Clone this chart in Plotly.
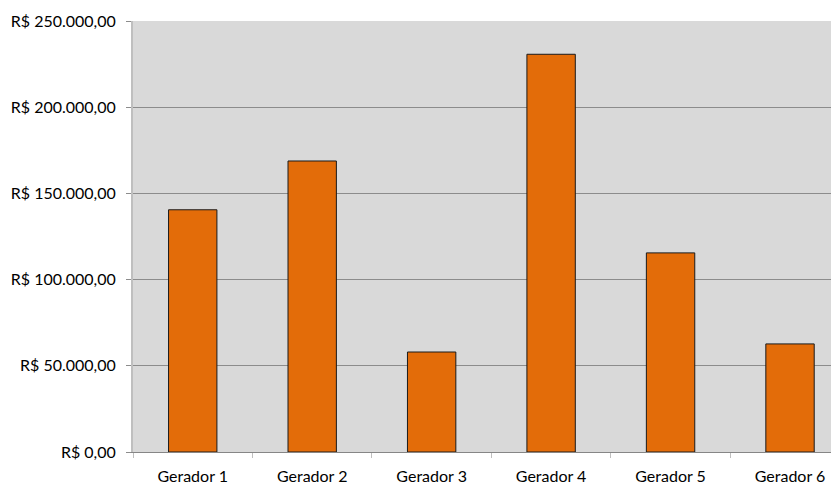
import plotly.graph_objects as go

categories = ["Gerador 1", "Gerador 2", "Gerador 3", "Gerador 4", "Gerador 5", "Gerador 6"]
values = [140500, 168800, 58000, 230700, 115500, 62700]
tick_values = [0, 50000, 100000, 150000, 200000, 250000]
tick_labels = ["R$ 0,00", "R$ 50.000,00", "R$ 100.000,00", "R$ 150.000,00", "R$ 200.000,00", "R$ 250.000,00"]

fig = go.Figure(go.Bar(
    x=list(range(len(categories))), y=values,
    marker=dict(color="#E36C09", line=dict(color="#1a1a1a", width=1)),
    width=0.405,
))

# page body has an 8px default margin, so the figure is sized/offset to compensate
fig.update_layout(
    width=831, height=478,
    margin=dict(l=125, r=0, t=13, b=34, autoexpand=False),
    paper_bgcolor="white", plot_bgcolor="#D9D9D9",
    font=dict(family="Lato, Calibri, sans-serif", size=16, color="black"),
    showlegend=False,
)
fig.update_xaxes(
    tickmode="array", tickvals=list(range(len(categories))), ticktext=categories,
    range=[-0.5, 5.41], showgrid=False, showline=True, linecolor="#868686", linewidth=1,
    ticks="", zeroline=False, tickfont=dict(size=16), automargin=False,
    ticklabelstandoff=10,
)
# category boundary tick marks
fig.update_xaxes(
    minor=dict(tickmode="array", tickvals=[i - 0.5 for i in range(len(categories) + 1)],
               ticks="outside", ticklen=5, tickcolor="#BFBFBF", showgrid=False),
)
fig.update_yaxes(
    range=[0, 250000], tickvals=tick_values, ticktext=tick_labels,
    showgrid=True, gridcolor="#8C8C8C", gridwidth=1,
    showline=True, linecolor="#BFBFBF", linewidth=2,
    ticks="outside", ticklen=5, tickcolor="#8C8C8C", zeroline=False,
    tickfont=dict(size=16), automargin=False, ticklabelstandoff=7,
)

fig.write_html("out.html")
